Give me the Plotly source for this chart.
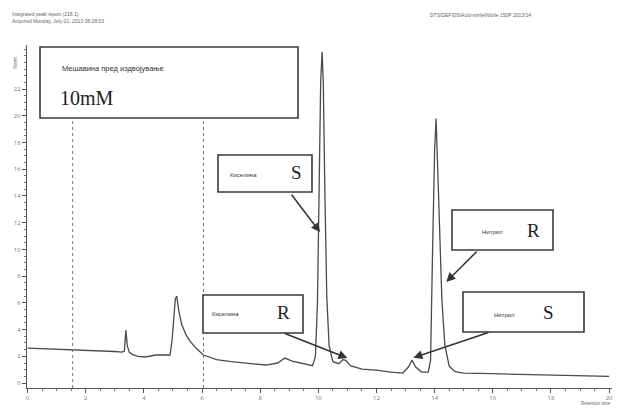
import plotly.graph_objects as go

# chromatogram signal (time in min, response)
time = [0.0, 1.0, 2.0, 3.0, 3.25, 3.33, 3.38, 3.43, 3.5, 3.6, 3.8, 4.05, 4.4, 4.9, 4.97,
        5.03, 5.08, 5.13, 5.2, 5.3, 5.45, 5.6, 5.8, 6.05, 6.5, 7.0, 7.5, 8.2, 8.6, 8.85,
        9.1, 9.5, 9.8, 9.9, 9.97, 10.03, 10.08, 10.13, 10.17, 10.22, 10.29, 10.37, 10.5,
        10.7, 10.85, 10.95, 11.1, 11.5, 12.0, 12.5, 12.9, 13.1, 13.22, 13.35, 13.55,
        13.78, 13.86, 13.93, 14.0, 14.05, 14.1, 14.17, 14.25, 14.35, 14.5, 14.7, 15.0,
        16.0, 17.0, 18.0, 19.0, 20.0]
signal = [2.62, 2.55, 2.47, 2.36, 2.32, 2.4, 3.97, 2.8, 2.3, 2.15, 2.0, 1.95, 2.1, 2.1, 3.2,
          5.3, 6.3, 6.5, 5.4, 4.4, 3.6, 3.1, 2.6, 2.1, 1.75, 1.6, 1.5, 1.35, 1.5, 1.87,
          1.65, 1.42, 1.3, 2.0, 6.0, 15.0, 22.5, 24.8, 22.5, 15.0, 6.5, 2.8, 1.6,
          1.45, 1.75, 1.7, 1.3, 1.05, 0.97, 0.82, 0.75, 1.2, 1.72, 1.2, 0.82,
          0.82, 1.7, 10.0, 17.5, 19.8, 16.7, 11.5, 6.2, 2.85, 1.27, 0.85, 0.75,
          0.7, 0.65, 0.6, 0.55, 0.5]

event_times = [1.55, 6.05]
x_ticks = [0, 2, 4, 6, 8, 10, 12, 14, 16, 18, 20]
y_ticks = [0, 2, 4, 6, 8, 10, 12, 14, 16, 18, 20, 22]

LINE = "#4a4a4a"
fig = go.Figure()
fig.add_trace(go.Scatter(x=time, y=signal, mode="lines",
                         line=dict(color=LINE, width=1.3), hoverinfo="skip"))
for t in event_times:
    fig.add_trace(go.Scatter(x=[t, t], y=[-0.37, 19.6], mode="lines",
                             line=dict(color="#777", width=1, dash="dot"), hoverinfo="skip"))

L, R, T, B = 27, 7, 45, 20
PW, PH = 619 - L - R, 408 - T - B

def px(x):
    return (x - L) / PW

def py(y):
    return (408 - B - y) / PH

shapes = []
annotations = []

def box(x0, y0, x1, y1):
    shapes.append(dict(type="rect", xref="paper", yref="paper",
                       x0=px(x0), x1=px(x1), y0=py(y1), y1=py(y0),
                       line=dict(color="#3a3a3a", width=1.6), fillcolor="white", layer="above"))

def txt(x, y, s, size, family="Arial", anchor="left", color="#333", angle=0):
    annotations.append(dict(x=px(x), y=py(y), xref="paper", yref="paper", text=s,
                            showarrow=False, xanchor=anchor, yanchor="middle", textangle=angle,
                            font=dict(size=size, family=family, color=color)))

def arrow(xt, yt, xh, yh):
    annotations.append(dict(x=xh, y=yh, ax=xt, ay=yt, xref="x", yref="y", axref="x", ayref="y",
                            text="", showarrow=True, arrowhead=2, arrowsize=1.2, arrowwidth=1.5,
                            arrowcolor="#333"))

box(40, 47, 298, 118)
txt(60, 68, "Мешавина пред издвојување", 7.5)
txt(58, 98, "10mM", 20, family="Liberation Serif", color="#222")

box(218, 155, 312, 192)
txt(228, 175, "Киселина", 6)
txt(296, 172, "S", 19, family="Liberation Serif", anchor="center", color="#222")
arrow(9.04, 14.2, 10.06, 11.3)

box(203, 295, 303, 333)
txt(210, 314, "Киселина", 6)
txt(283, 312, "R", 19, family="Liberation Serif", anchor="center", color="#222")
arrow(8.8, 3.75, 11.0, 1.87)

box(452, 210, 553, 250)
txt(480, 232, "Нитрил", 6)
txt(533, 230, "R", 19, family="Liberation Serif", anchor="center", color="#222")
arrow(15.5, 9.96, 14.4, 7.57)

box(463, 292, 584, 332)
txt(492, 315, "Нитрил", 6)
txt(548, 312, "S", 19, family="Liberation Serif", anchor="center", color="#222")
arrow(15.9, 3.82, 13.27, 1.9)

# header text
txt(10, 14, "Integrated peak report (218.1)", 5, color="#666")
txt(10, 21, "Acquired Monday, July 01, 2013 08:28:03", 5, color="#666")
txt(428, 15, "DTS\\DEF\\DS\\Acid-nitrile\\Nitrile 150P 2013/14", 5, color="#666")
txt(15, 62, "Norm.", 5, color="#666", anchor="center", angle=-90)
txt(596, 403, "Retention time", 4.5, color="#666", anchor="center")

fig.update_layout(
    width=619, height=408,
    margin=dict(l=L, r=R, t=T, b=B),
    paper_bgcolor="white", plot_bgcolor="white",
    showlegend=False,
    shapes=shapes, annotations=annotations,
    xaxis=dict(range=[-0.02, 20.1], tickvals=x_ticks, showgrid=False, zeroline=False,
               showline=True, linecolor="#555", linewidth=1.2, ticks="outside", ticklen=4,
               tickcolor="#555", tickfont=dict(size=6, color="#777"),
               minor=dict(dtick=0.5, ticks="outside", ticklen=2, tickcolor="#777")),
    yaxis=dict(range=[-0.37, 25.3], tickvals=y_ticks, showgrid=False, zeroline=False,
               showline=True, linecolor="#555", linewidth=1.2, ticks="outside", ticklen=4,
               tickcolor="#555", tickfont=dict(size=6, color="#777"),
               minor=dict(dtick=0.5, ticks="outside", ticklen=2, tickcolor="#777")),
)

fig.write_html("out.html", config={"displayModeBar": False},
               post_script="document.body.style.margin='0';")
